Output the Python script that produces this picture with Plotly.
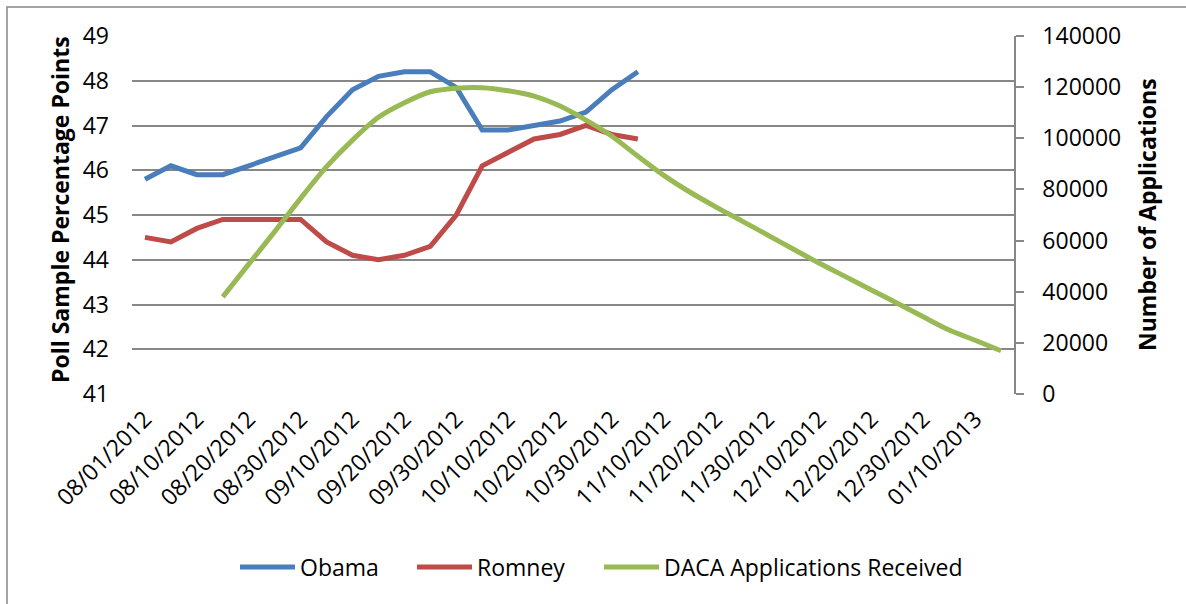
import plotly.graph_objects as go

# Reporting dates (every other date carries a tick label)
dates = [
    "08/01/2012", "08/05/2012", "08/10/2012", "08/15/2012", "08/20/2012", "08/25/2012",
    "08/30/2012", "09/05/2012", "09/10/2012", "09/15/2012", "09/20/2012", "09/25/2012",
    "09/30/2012", "10/05/2012", "10/10/2012", "10/15/2012", "10/20/2012", "10/25/2012",
    "10/30/2012", "11/05/2012", "11/10/2012", "11/15/2012", "11/20/2012", "11/25/2012",
    "11/30/2012", "12/05/2012", "12/10/2012", "12/15/2012", "12/20/2012", "12/25/2012",
    "12/30/2012", "01/05/2013", "01/10/2013", "01/15/2013",
]
tick_dates = dates[::2]

# Poll sample percentage points
obama = [45.8, 46.1, 45.9, 45.9, 46.1, 46.3, 46.5, 47.2, 47.8, 48.1,
         48.2, 48.2, 47.85, 46.9, 46.9, 47.0, 47.1, 47.3, 47.8, 48.2]
romney = [44.5, 44.4, 44.7, 44.9, 44.9, 44.9, 44.9, 44.4, 44.1, 44.0,
          44.1, 44.3, 45.0, 46.1, 46.4, 46.7, 46.8, 47.0, 46.8, 46.7]

# DACA applications received (starts with the 08/15 report)
daca = [None, None, None,
        38000, 50800, 63500, 76500, 88900, 99300, 108200, 113900, 118200,
        119600, 119800, 118600, 116500, 112600, 107100, 100800, 93000,
        85500, 79000, 73200, 67700, 62200, 56600, 51100, 45900, 40700,
        35500, 30200, 25000, 21000, 16900]

BLUE = "#4A7EBB"
RED = "#BE4B48"
GREEN = "#98B954"
GRID = "#878787"
FONT = "Open Sans"
FS = 23
LW = 5

# plot-area pixel frame used for placing titles, legends and border
L, R, T, B = 132, 1014, 36, 394
PW, PH = R - L, B - T


def px(xp):
    return (xp - L) / PW


def py(yp):
    return (B - yp) / PH


fig = go.Figure()
fig.add_trace(go.Scatter(x=dates[:len(obama)], y=obama, name="Obama", mode="lines",
                         line=dict(color=BLUE, width=LW), legend="legend"))
fig.add_trace(go.Scatter(x=dates[:len(romney)], y=romney, name="Romney", mode="lines",
                         line=dict(color=RED, width=LW), legend="legend2"))
fig.add_trace(go.Scatter(x=dates, y=daca, name="DACA Applications Received", mode="lines",
                         yaxis="y2", connectgaps=False, legend="legend3",
                         line=dict(color=GREEN, width=LW, shape="spline", smoothing=0.8)))

leg = dict(orientation="h", yanchor="middle", xanchor="left", y=py(567),
           font=dict(size=FS), itemwidth=55, bgcolor="rgba(0,0,0,0)")

fig.update_layout(
    width=1186, height=604,
    margin=dict(l=L, r=1186 - R, t=T, b=604 - B),
    paper_bgcolor="white", plot_bgcolor="white",
    font=dict(family=FONT, size=FS, color="black"),
    showlegend=True,
    legend=dict(leg, x=px(235)),
    legend2=dict(leg, x=px(412)),
    legend3=dict(leg, x=px(599)),
    xaxis=dict(type="category", categoryorder="array", categoryarray=dates,
               range=[-0.5, len(dates) - 0.5],
               tickmode="array", tickvals=tick_dates, ticktext=tick_dates,
               tickangle=-45, showgrid=False, showline=False, zeroline=False,
               ticks="", ticklabelstandoff=6, tickfont=dict(size=FS)),
    yaxis=dict(range=[41, 49], dtick=1, showgrid=True, gridcolor=GRID, gridwidth=1.5,
               showline=False, zeroline=False, ticks="", ticklabelstandoff=22,
               tickfont=dict(size=FS)),
    yaxis2=dict(range=[0, 140000], dtick=20000, tickformat="d", overlaying="y", side="right",
                showgrid=False, zeroline=False, showline=True, linecolor=GRID, linewidth=1.5,
                ticks="outside", ticklen=8, tickcolor=GRID, tickwidth=1.5,
                ticklabelstandoff=14, tickfont=dict(size=FS)),
)

# Axis titles
fig.add_annotation(text="<b>Poll Sample Percentage Points</b>", xref="paper", yref="paper",
                   x=px(60), y=py(210), xanchor="center", yanchor="middle", textangle=-90,
                   showarrow=False, font=dict(size=FS))
fig.add_annotation(text="<b>Number of Applications</b>", xref="paper", yref="paper",
                   x=px(1147), y=py(215), xanchor="center", yanchor="middle", textangle=-90,
                   showarrow=False, font=dict(size=FS))

# Chart-area border
fig.add_shape(type="rect", xref="paper", yref="paper",
              x0=px(7), x1=px(1200), y0=py(620), y1=py(7),
              line=dict(color=GRID, width=1.5), fillcolor="rgba(0,0,0,0)", layer="below")

fig.write_html("out.html")
